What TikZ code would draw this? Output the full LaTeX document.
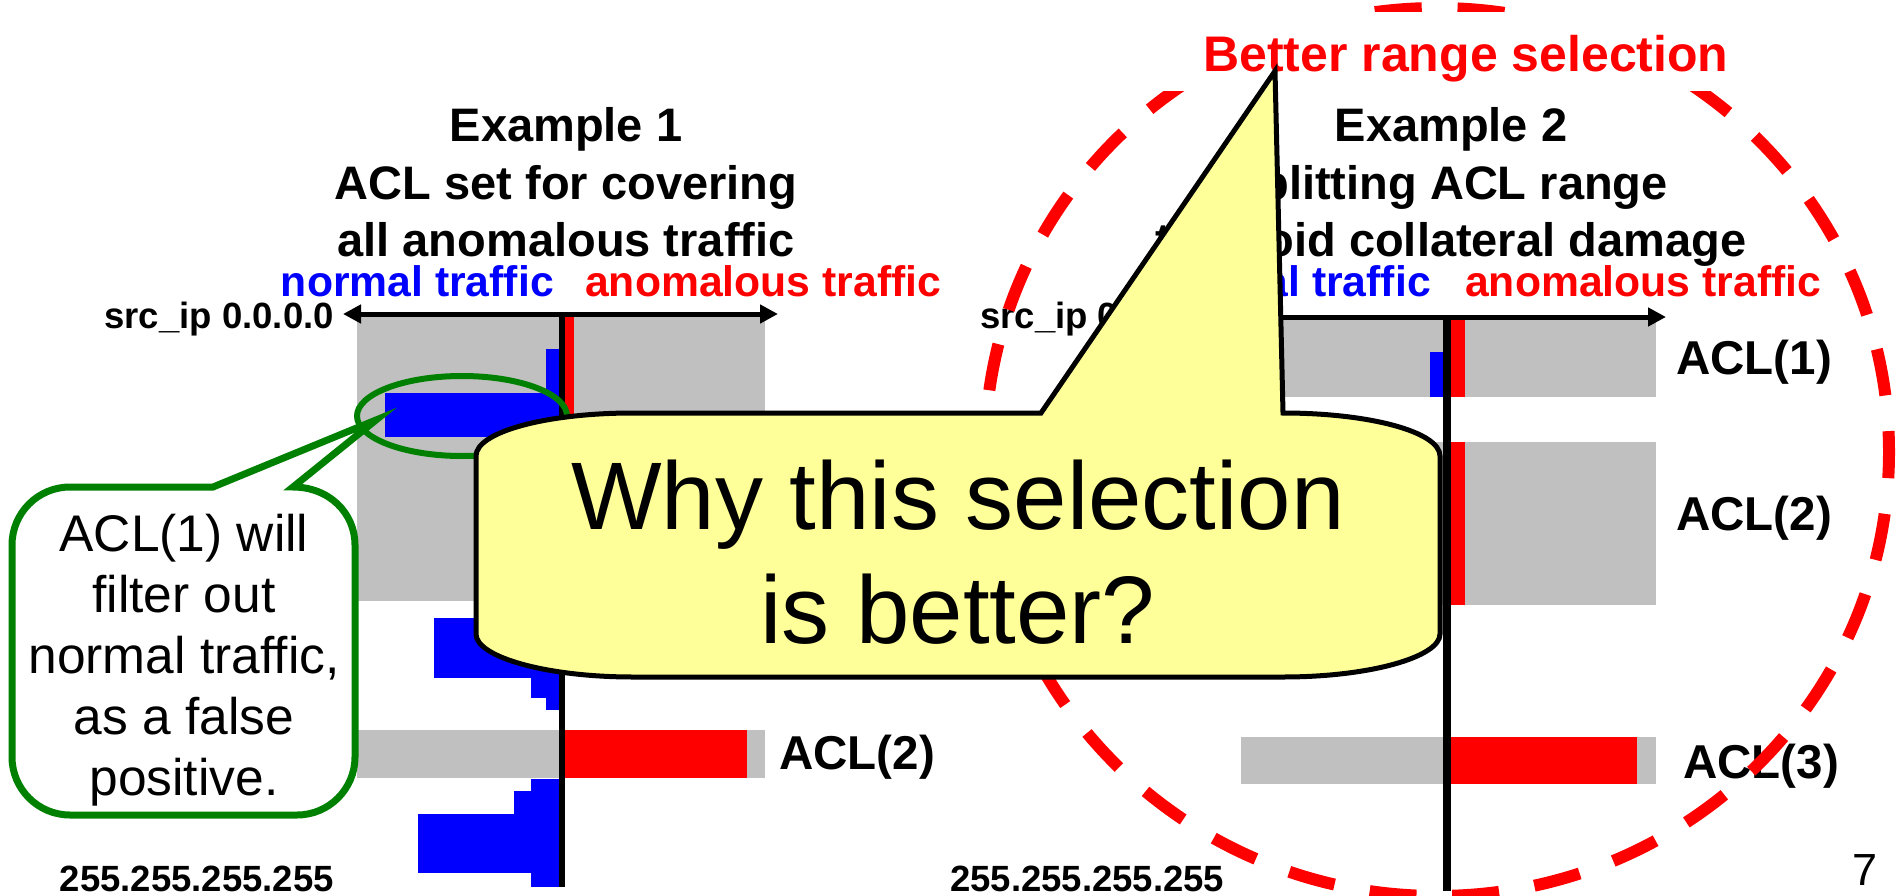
\documentclass[tikz,border=0pt]{standalone}
\usepackage{fontspec}
\setmainfont{Liberation Sans}
\usetikzlibrary{arrows.meta}

\definecolor{barblue}{RGB}{0,0,255}
\definecolor{barred}{RGB}{255,0,0}
\definecolor{rangegray}{RGB}{192,192,192}
\definecolor{notegreen}{RGB}{0,128,0}
\definecolor{noteyellow}{RGB}{255,255,153}

% centred block of lines whose baseline is that of the first line
\newcommand\stackedlines[1]{\vtop{\halign{\hfil##\hfil\cr#1\crcr}}}

\tikzset{
  titletext/.style={font=\fontsize{47}{57.5}\selectfont\bfseries, inner sep=0pt, anchor=base},
  kindtext/.style={font=\fontsize{42.7}{46}\selectfont\bfseries, inner sep=0pt},
  addrtext/.style={font=\fontsize{36.5}{40}\selectfont\bfseries, inner sep=0pt},
  acltext/.style={font=\fontsize{47.5}{52}\selectfont\bfseries, inner sep=0pt, anchor=base west},
  rangebox/.style={fill=rangegray},
  normalbar/.style={fill=barblue},
  anomalybar/.style={fill=barred},
  axisline/.style={line width=6pt},
  rangearrow/.style={line width=5pt,
    arrows={Triangle[length=18pt,width=18pt]-Triangle[length=18pt,width=18pt]}},
}

\begin{document}
\begin{tikzpicture}[x=1pt,y=-1pt]
\useasboundingbox (0,0) rectangle (1902,896);

% ---------------- Example 1 ----------------
\fill[rangebox] (357,317) rectangle (765,601);
\fill[rangebox] (357,730) rectangle (765,778);
\fill[normalbar] (546,349) rectangle (560,393);
\fill[normalbar] (385,393) rectangle (560,437);
\fill[normalbar] (434,618) rectangle (560,678);
\fill[normalbar] (531,678) rectangle (560,698);
\fill[normalbar] (546,698) rectangle (560,710);
\fill[normalbar] (531,779) rectangle (560,791);
\fill[normalbar] (514,791) rectangle (560,814);
\fill[normalbar] (418,814) rectangle (560,873);
\fill[normalbar] (531,873) rectangle (560,887);
\fill[anomalybar] (562,317) rectangle (574,601);
\fill[anomalybar] (562,730) rectangle (747,778);

\coordinate (axA-top) at (562,314);
\coordinate (axA-bot) at (562,887);
\coordinate (axA-lo) at (343,314);
\coordinate (axA-hi) at (778,314);
\draw[axisline] (axA-top) -- (axA-bot);
\draw[rangearrow] (axA-lo) -- (axA-hi);

% ---------------- Example 2 ----------------
\fill[rangebox] (1241,320) rectangle (1656,397);
\fill[rangebox] (1241,442) rectangle (1656,605);
\fill[rangebox] (1241,737) rectangle (1656,784);
\fill[normalbar] (1430,352) rectangle (1443,397);
\fill[anomalybar] (1450,320) rectangle (1465,397);
\fill[anomalybar] (1450,442) rectangle (1465,605);
\fill[anomalybar] (1450,737) rectangle (1637,784);

\coordinate (axB-top) at (1447,317);
\coordinate (axB-bot) at (1447,891);
\coordinate (axB-lo) at (1229,317);
\coordinate (axB-hi) at (1666,317);
\draw[axisline, line width=8pt] (axB-top) -- (axB-bot);
\draw[rangearrow] (axB-lo) -- (axB-hi);

% ---------------- labels ----------------
\node[titletext] (title1) at (566,142)
  {\stackedlines{Example 1\cr ACL set for covering\cr all anomalous traffic}};
\node[titletext] (title2) at (1451,142)
  {\stackedlines{Example 2\cr splitting ACL range\cr to avoid collateral damage}};

\node[kindtext, text=barblue, anchor=base east] (normalA) at (554,296) {normal traffic};
\node[kindtext, text=barred, anchor=base west] (anomalyA) at (585,296) {anomalous traffic};
\node[kindtext, text=barblue, anchor=base east] (normalB) at (1431,296) {normal traffic};
\node[kindtext, text=barred, anchor=base west] (anomalyB) at (1465,296) {anomalous traffic};

\node[addrtext, anchor=base east] (startA) at (334,328) {src\_ip 0.0.0.0};
\node[addrtext, anchor=base west] (startB) at (980,328) {src\_ip 0.0.0.0};
\node[addrtext, anchor=base east] (endA) at (334,891) {255.255.255.255};
\node[addrtext, anchor=base west] (endB) at (950,891) {255.255.255.255};

\node[acltext] (aclA2) at (779,769) {ACL(2)};
\node[acltext] (aclB1) at (1676,374) {ACL(1)};
\node[acltext] (aclB2) at (1676,530) {ACL(2)};
\node[acltext] (aclB3) at (1683,778) {ACL(3)};

\node[font=\fontsize{45}{50}\selectfont, inner sep=0pt, anchor=base west] (pageno) at (1852,885) {7};

% ---------------- highlight of example 2 ----------------
\coordinate (ring) at (1437,452);
\draw[barred, line width=12pt, dash pattern=on 47pt off 35.8pt, dash phase=20.8pt]
  (ring) ellipse [x radius=452, y radius=444];
\node[font=\fontsize{50}{55}\selectfont\bfseries, text=barred, fill=white, anchor=base,
      inner xsep=62pt, inner ysep=0pt, text height=60pt, text depth=19pt]
  (better) at (1466,72) {Better range selection};

% ---------------- false-positive note ----------------
\coordinate (hot) at (462,416);
\draw[notegreen, line width=6pt] (hot) ellipse [x radius=105, y radius=40];
\draw[notegreen, line width=7pt, fill=white]
  (70,487) -- (213,487) -- (376,420) -- (293,487)
  .. controls (329,487) and (355,513) .. (355,545) -- (355,757)
  .. controls (355,789) and (329,815) .. (297,815) -- (70,815)
  .. controls (38,815) and (12,789) .. (12,757) -- (12,545)
  .. controls (12,513) and (38,487) .. (70,487) -- cycle;
\node[font=\fontsize{51.5}{61}\selectfont, inner sep=0pt, anchor=base] (fpnote) at (184,551)
  {\stackedlines{ACL(1) will\cr filter out\cr normal traffic,\cr as a false\cr positive.}};

% ---------------- question bubble ----------------
\draw[line width=5pt, fill=noteyellow]
  (633,413) -- (1041,413) -- (1275,71) -- (1283,413)
  .. controls (1370,413) and (1440,432) .. (1440,456) -- (1440,634)
  .. controls (1440,657) and (1370,677) .. (1283,677) -- (633,677)
  .. controls (546,677) and (476,657) .. (476,634) -- (476,456)
  .. controls (476,432) and (546,413) .. (633,413) -- cycle;
\node[font=\fontsize{96}{114}\selectfont, inner sep=0pt, anchor=base] (question) at (958,529)
  {\stackedlines{Why this selection\cr is better?}};
\end{tikzpicture}
\end{document}
